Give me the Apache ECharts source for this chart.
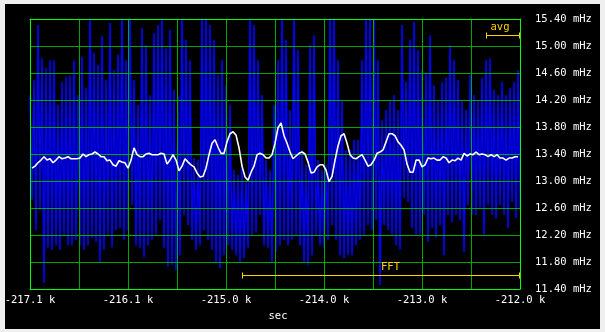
<!DOCTYPE html>
<html><head><meta charset="utf-8">
<script src="https://cdn.jsdelivr.net/npm/echarts@6/dist/echarts.min.js"></script>
<style>
html,body{margin:0;padding:0;background:#efefef;width:605px;height:332px;overflow:hidden}
#panel{position:absolute;left:5px;top:4px;width:595px;height:325px;background:#000}
#chart{width:595px;height:325px}
</style></head><body>
<div id="panel"><div id="chart"></div></div>
<script>
// ---- axis definitions ----
const xTickLabels = ['-217.1 k','','-216.1 k','','-215.0 k','','-214.0 k','','-213.0 k','','-212.0 k'];
const xMin = -217080, xMax = -211960, xStep = 512;
const yMin = 11.4, yMax = 15.4, yStep = 0.4;
const xName = 'sec';
const yUnit = ' mHz';

// ---- raw signal (blue): alternating high / low samples ----
const blueT0 = -217080, blueDt = 41.8;
const blueHigh = [
 14.27,14.50,15.31,14.82,14.67,14.79,14.79,14.13,14.47,14.54,
 14.56,14.78,14.27,14.84,14.38,15.50,14.90,14.72,15.15,14.50,
 15.34,14.64,14.87,15.50,14.79,15.50,14.50,14.13,15.27,15.01,
 14.27,15.19,15.31,15.50,14.97,15.24,14.35,14.27,15.50,15.09,
 14.79,13.34,13.31,15.50,15.50,15.31,15.09,14.57,14.79,14.42,
 14.13,13.16,13.09,13.24,13.01,15.50,15.31,14.79,14.27,13.31,
 13.16,14.13,14.79,15.50,15.09,14.05,15.50,14.94,13.46,13.24,
 15.01,15.16,13.31,13.16,13.24,15.50,15.50,14.79,14.20,13.46,
 13.46,13.61,13.61,14.79,15.50,15.50,15.50,14.79,13.90,14.05,
 14.20,14.27,14.05,15.31,14.47,15.09,15.36,14.94,14.64,14.61,
 15.16,14.42,14.20,14.47,14.53,15.01,14.79,14.50,14.20,14.05,
 14.57,14.27,14.20,14.53,14.79,14.82,14.35,14.27,14.47,14.27,
 14.38,14.47,14.64];
const blueLow = [
 12.72,12.27,12.57,11.49,12.01,11.98,12.05,11.98,12.19,12.05,
 12.05,12.13,12.05,11.98,12.05,12.16,12.10,11.79,11.98,12.20,
 12.02,12.27,12.30,12.13,12.27,12.64,12.05,12.01,11.87,12.05,
 12.13,12.20,12.42,12.01,11.73,11.76,11.68,11.90,12.50,12.35,
 12.13,11.98,12.05,12.27,12.13,11.98,11.80,11.71,11.90,12.05,
 11.98,11.90,11.80,11.86,12.01,12.20,12.24,12.50,12.05,12.01,
 11.80,11.95,12.05,12.13,12.05,12.13,12.20,12.05,11.80,11.76,
 11.90,12.20,12.05,12.01,12.13,12.35,12.13,11.90,11.86,11.90,
 11.90,12.05,12.13,12.20,12.35,12.27,12.42,11.46,12.35,12.27,
 12.20,12.05,11.98,12.75,12.69,12.30,12.20,12.20,12.50,12.10,
 12.30,12.16,12.35,11.90,12.50,12.39,12.50,12.42,11.95,12.64,
 12.50,12.50,12.60,12.20,12.64,12.50,12.45,12.64,12.50,12.30,
 12.69,12.45,12.60];

// ---- averaged signal (white) ----
const avgT0 = -217059, avgDt = 31.35;
const avgValues = [
 13.19,13.22,13.27,13.31,13.36,13.31,13.33,13.27,13.31,13.36,
 13.33,13.34,13.36,13.33,13.33,13.33,13.34,13.40,13.36,13.39,
 13.40,13.43,13.40,13.36,13.36,13.30,13.31,13.24,13.22,13.30,
 13.28,13.27,13.19,13.31,13.49,13.39,13.36,13.36,13.40,13.41,
 13.39,13.39,13.39,13.41,13.40,13.25,13.31,13.39,13.31,13.15,
 13.22,13.33,13.28,13.24,13.21,13.12,13.06,13.07,13.19,13.39,
 13.56,13.61,13.50,13.41,13.41,13.58,13.70,13.73,13.68,13.49,
 13.22,13.06,13.01,13.13,13.22,13.39,13.41,13.39,13.34,13.34,
 13.39,13.56,13.79,13.86,13.67,13.56,13.43,13.33,13.37,13.41,
 13.43,13.40,13.28,13.12,13.13,13.21,13.24,13.24,13.16,12.99,
 13.07,13.31,13.52,13.67,13.70,13.56,13.39,13.34,13.33,13.36,
 13.39,13.31,13.22,13.24,13.31,13.41,13.43,13.46,13.58,13.70,
 13.70,13.67,13.58,13.53,13.46,13.25,13.13,13.13,13.31,13.31,
 13.21,13.24,13.34,13.33,13.34,13.31,13.31,13.36,13.34,13.27,
 13.31,13.30,13.34,13.31,13.41,13.37,13.40,13.39,13.43,13.39,
 13.40,13.39,13.36,13.39,13.36,13.39,13.34,13.34,13.31,13.34,
 13.34,13.36,13.36];

// ---- window markers ----
const windowNames = ['FFT', 'avg'];
const windowFrom = [-214865, -212315];
const windowTo = [-211960, -211960];

// ---- build series data ----
const blueData = [];
blueHigh.forEach(function (h, k) {
  const t = blueT0 + k * blueDt;
  blueData.push([t, h]);
  blueData.push([t + blueDt / 2, blueLow[k]]);
});
const avgData = avgValues.map(function (v, j) { return [avgT0 + j * avgDt, v]; });
const windowData = windowNames.map(function (n, i) { return [windowFrom[i], windowTo[i]]; });

const FONT = 'DejaVu Sans Mono';
const FS = 10.5;
const GOLD = '#ffd200';
const chart = echarts.init(document.getElementById('chart'), null, {renderer: 'canvas'});
chart.setOption({
  animation: false,
  backgroundColor: '#000',
  grid: {left: 25, top: 15, width: 490, height: 270, containLabel: false, outerBoundsMode: 'none'},
  xAxis: [{
    type: 'value', position: 'bottom', min: xMin, max: xMax, interval: xStep, z: 3,
    axisLine: {show: true, onZero: false, lineStyle: {color: '#00ff00', width: 1}},
    axisTick: {show: false},
    splitLine: {show: true, showMinLine: false, showMaxLine: false, lineStyle: {color: '#00a800', width: 1}},
    axisLabel: {
      color: '#fff', fontFamily: FONT, fontSize: FS, margin: 6, showMinLabel: true, showMaxLabel: true,
      formatter: function (v) { const i = Math.round((v - xMin) / xStep); return xTickLabels[i] || ''; }
    },
    name: xName, nameLocation: 'middle', nameGap: 22,
    nameTextStyle: {color: '#fff', fontFamily: FONT, fontSize: FS, padding: [0, 0, 0, 6]}
  }, {
    type: 'value', position: 'top', min: xMin, max: xMax, interval: xStep, z: 4,
    axisLine: {show: true, onZero: false, lineStyle: {color: '#00ff00', width: 1}},
    axisTick: {show: false}, axisLabel: {show: false}, splitLine: {show: false}
  }],
  yAxis: [{
    type: 'value', position: 'right', min: yMin, max: yMax, interval: yStep, z: 3,
    axisLine: {show: true, onZero: false, lineStyle: {color: '#00ff00', width: 1}},
    axisTick: {show: false},
    splitLine: {show: true, showMinLine: false, showMaxLine: false, lineStyle: {color: '#00a800', width: 1}},
    axisLabel: {
      color: '#fff', fontFamily: FONT, fontSize: FS, margin: 15,
      formatter: function (v) { return v.toFixed(2) + yUnit; }
    }
  }, {
    type: 'value', position: 'left', min: yMin, max: yMax, interval: yStep, z: 4,
    axisLine: {show: true, onZero: false, lineStyle: {color: '#00ff00', width: 1}},
    axisTick: {show: false}, axisLabel: {show: false}, splitLine: {show: false}
  }],
  series: [{
    type: 'line', name: 'signal', data: blueData, xAxisIndex: 0, yAxisIndex: 0,
    showSymbol: false, symbol: 'none', clip: true, z: 2,
    lineStyle: {color: '#0000ff', width: 1.6, join: 'miter', miterLimit: 2}
  }, {
    type: 'line', name: 'avg', data: avgData, xAxisIndex: 0, yAxisIndex: 0,
    showSymbol: false, symbol: 'none', clip: true, z: 5,
    lineStyle: {color: '#ffffff', width: 1.6}
  }, {
    type: 'custom', name: 'windows', data: windowData, xAxisIndex: 0, yAxisIndex: 0, z: 6,
    renderItem: function (params, api) {
      const i = params.dataIndex;
      const cs = params.coordSys;
      const x1 = Math.round(api.coord([api.value(0), yMin])[0]) + 0.5;
      const x2 = Math.round(api.coord([api.value(1), yMin])[0]) - 0.5;
      const isFFT = windowNames[i] === 'FFT';
      const y = (isFFT ? cs.y + cs.height - 14 : cs.y + 16) + 0.5;
      const tx = isFFT ? Math.round((x1 + x2) / 2) : x1 + 4;
      const st = {stroke: GOLD, lineWidth: 1};
      return {type: 'group', children: [
        {type: 'line', shape: {x1: x1, y1: y, x2: x2, y2: y}, style: st},
        {type: 'line', shape: {x1: x1, y1: y - 3, x2: x1, y2: y + 3}, style: st},
        {type: 'line', shape: {x1: x2, y1: y - 3, x2: x2, y2: y + 3}, style: st},
        {type: 'text', style: {text: windowNames[i], x: tx, y: y - 3, align: 'left', verticalAlign: 'bottom',
          fill: GOLD, font: FS + 'px ' + FONT}}
      ]};
    }
  }]
});
</script>
</body></html>
